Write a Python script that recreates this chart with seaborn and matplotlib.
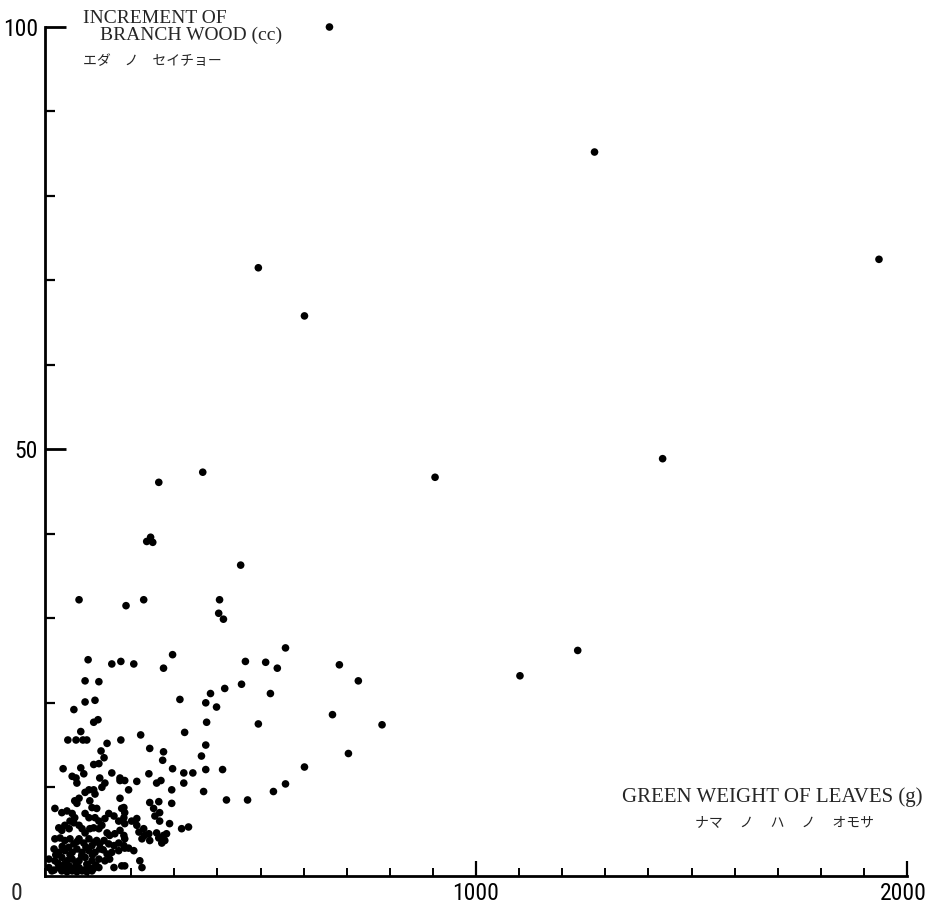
import matplotlib
matplotlib.use("Agg")
import matplotlib.pyplot as plt
import matplotlib.transforms as mtransforms
import seaborn as sns
import pandas as pd
from matplotlib import font_manager
from matplotlib.ticker import MultipleLocator, FixedLocator

# Green weight of leaves (g)
leaf_weight = [
    660, 1275, 1935, 495, 602, 905, 1433, 366, 264, 236, 245, 250, 454, 558, 1236, 1102,
    405, 403, 414, 465, 512, 539, 683, 727, 456, 417, 384, 373, 398, 523, 375, 495, 667, 782,
    373, 363, 373, 412, 704, 602, 558, 530, 368, 421, 470,
    79, 188, 229, 100, 155, 176, 206, 296, 275, 93, 125,
    93, 116, 67, 113, 123, 83, 53, 72, 88, 97, 176, 144, 130, 137, 113, 125, 42, 83, 90, 63,
    72, 155, 174, 174, 185, 127, 139, 132, 113, 102, 74,
    313, 324, 222, 243, 275, 273, 296, 241, 322, 322, 343, 213, 259, 269, 294, 194,
    294, 243, 264, 252, 255, 266, 266, 289, 317, 333, 183, 185, 183, 185, 201, 213, 213, 218,
    229, 231, 225, 241, 243, 259, 264, 275, 278, 271, 282, 185, 185, 194, 206, 185, 220, 225,
    116, 93, 79, 74, 69, 104, 109, 120, 174, 178, 23, 39, 51, 63, 69, 58, 67,
    93, 102, 116, 125, 139, 148, 160, 171, 32, 39, 46, 56, 79, 86, 93, 104, 113, 125, 132,
    144, 150, 162, 174, 183, 23, 35, 46, 58, 67, 79, 90, 102, 109, 120, 127, 137,
    148, 160, 171, 183, 21, 32, 46, 63, 74, 86, 102, 116, 127, 144, 155, 171,
    9, 23, 39, 51, 63, 79, 93, 109, 125, 139, 178,
    9, 21, 32, 44, 56, 67, 79, 90, 102, 113, 125, 16, 39, 63, 86, 109, 51, 74, 97,
    30, 45, 58, 72, 85, 97, 110, 118, 40, 55, 75, 95, 115, 135, 25, 150, 160,
]

# Increment of branch wood (cc)
branch_increment = [
    100.0, 85.2, 72.5, 71.5, 65.8, 46.7, 48.9, 47.3, 46.1, 39.1, 39.6, 39.0, 36.3, 26.5, 26.2, 23.2,
    32.2, 30.6, 29.9, 24.9, 24.8, 24.1, 24.5, 22.6, 22.2, 21.7, 21.1, 20.0, 19.5, 21.1, 17.7, 17.5, 18.6, 17.4,
    15.0, 13.7, 12.1, 12.1, 14.0, 12.4, 10.4, 9.5, 9.5, 8.5, 8.5,
    32.2, 31.5, 32.2, 25.1, 24.6, 24.9, 24.6, 25.7, 24.1, 22.6, 22.5,
    20.1, 20.3, 19.2, 17.7, 18.0, 16.6, 15.6, 15.6, 15.6, 15.6, 15.6, 15.2, 14.3, 13.5, 12.7, 12.8, 12.2, 12.3, 11.6, 11.3,
    11.1, 11.7, 11.1, 10.8, 10.8, 11.1, 10.5, 10.0, 9.7, 9.7, 10.5,
    20.4, 16.5, 16.2, 14.6, 14.2, 13.2, 12.2, 11.6, 11.7, 10.5, 11.7, 10.7, 10.5, 10.8, 9.7, 9.7,
    8.1, 8.2, 8.3, 7.5, 6.6, 7.0, 6.0, 5.7, 5.1, 5.3, 7.6, 7.0, 6.4, 5.7, 6.0, 6.3, 5.5, 4.7,
    5.1, 4.3, 3.9, 4.5, 3.7, 4.6, 4.0, 4.3, 3.7, 3.4, 4.5, 3.9, 2.8, 2.8, 2.5, 0.7, 1.3, 0.5,
    9.2, 9.4, 8.7, 8.1, 8.4, 8.4, 7.6, 7.5, 8.7, 7.5, 7.5, 7.0, 7.2, 6.9, 6.4, 6.0, 5.8,
    6.9, 6.4, 6.4, 6.0, 6.3, 6.9, 6.6, 6.0, 5.2, 4.9, 5.5, 5.1, 5.5, 5.1, 4.6, 5.1, 5.2, 5.1, 5.5,
    4.6, 4.3, 4.5, 4.9, 4.3, 3.9, 4.0, 3.7, 3.9, 3.3, 3.9, 3.4, 3.9, 3.1, 3.7, 3.3, 3.7,
    3.3, 3.1, 3.4, 3.1, 2.7, 2.3, 2.5, 2.3, 2.7, 2.3, 2.5, 2.3, 2.7, 2.1, 2.3, 2.5,
    1.5, 1.3, 1.7, 1.3, 1.5, 1.3, 1.7, 1.3, 1.5, 1.3, 0.7,
    0.5, 0.2, 0.5, 0.4, 0.7, 0.4, 0.5, 0.2, 0.5, 0.4, 0.5, 0.1, 0.1, 0.1, 0.1, 0.1, 0.0, 0.0, 0.0,
    1.0, 0.9, 2.0, 1.0, 1.9, 0.9, 2.0, 0.8, 3.0, 2.9, 3.6, 2.9, 3.5, 2.6, 2.0, 1.5, 0.5,
]

x_tick_values = [1000, 2000]
x_tick_labels = ["1000", "2000"]
y_tick_values = [50, 100]
y_tick_labels = ["50", "100"]

x_title = "GREEN WEIGHT OF LEAVES (g)"
x_title_jp = "ナマ　 ノ　 ハ　 ノ　 オモサ"
y_title_1 = "INCREMENT OF"
y_title_2 = "BRANCH WOOD (cc)"
y_title_jp = "エダ　ノ　セイチョー"

n = min(len(leaf_weight), len(branch_increment))
df = pd.DataFrame({"leaf": leaf_weight[:n], "wood": branch_increment[:n]})

sns.set_theme(style="white")

# pick the narrowest available sans face for the numerals
names = {f.name for f in font_manager.fontManager.ttflist}
narrow_candidates = ["Liberation Sans Narrow", "Roboto Condensed", "Open Sans Condensed",
                     "Noto Sans Condensed"]
found = [c for c in narrow_candidates if c in names]
if found:
    num_font = dict(family=[found[0], "DejaVu Sans"], fontsize=17)
else:
    num_font = dict(family=["DejaVu Sans"], fontstretch="condensed", fontsize=15.5)

plt.rcParams["font.family"] = ["DejaVu Sans"]

W, H = 926, 906
fig = plt.figure(figsize=(W / 100, H / 100), dpi=100)
ax = fig.add_axes([45 / W, (H - 876) / H, 862 / W, 849 / H])

sns.scatterplot(data=df, x="leaf", y="wood", ax=ax, color="black", s=30,
                edgecolor="none", linewidth=0, clip_on=False, legend=False)

ax.set_xlim(0, 2000)
ax.set_ylim(-0.5, 100)
ax.set_xlabel("")
ax.set_ylabel("")

for side in ["top", "right"]:
    ax.spines[side].set_visible(False)
for side in ["left", "bottom"]:
    ax.spines[side].set_linewidth(2.0)
    ax.spines[side].set_color("black")

ax.xaxis.set_major_locator(FixedLocator(x_tick_values))
ax.xaxis.set_minor_locator(MultipleLocator(100))
ax.yaxis.set_major_locator(FixedLocator(y_tick_values))
ax.yaxis.set_minor_locator(FixedLocator([10, 20, 30, 40, 60, 70, 80, 90]))
ax.set_xticklabels(x_tick_labels, **num_font)
ax.set_yticklabels(y_tick_labels, **num_font)

ax.tick_params(axis="x", which="major", direction="in", length=11, width=1.6,
               color="black", pad=4.5, bottom=True)
ax.tick_params(axis="x", which="minor", direction="in", length=6, width=1.4,
               color="black", bottom=True)
ax.tick_params(axis="y", which="major", direction="in", length=15, width=2.0,
               color="black", pad=5, left=True)
ax.tick_params(axis="y", which="minor", direction="in", length=7, width=1.6,
               color="black", left=True)
for lab in ax.get_xticklabels() + ax.get_yticklabels():
    lab.set_color("black")

# keep the last x label inside the canvas, as in the reference
last = ax.get_xticklabels()[-1]
last.set_transform(last.get_transform() +
                   mtransforms.ScaledTranslation(-0.035, 0, fig.dpi_scale_trans))

fig.text(17 / W, 1 - 894 / H, "0", ha="center", va="center", **num_font)

serif = ["Liberation Serif", "DejaVu Serif"]
jp = ["Noto Sans CJK JP", "DejaVu Sans"]
fig.text(83 / W, 1 - 10 / H, y_title_1, ha="left", va="top", fontsize=14, family=serif)
fig.text(100 / W, 1 - 27 / H, y_title_2, ha="left", va="top", fontsize=14, family=serif)
fig.text(83 / W, 1 - 54 / H, y_title_jp, ha="left", va="top", fontsize=10, family=jp)

fig.text(922 / W, 1 - 787 / H, x_title, ha="right", va="top", fontsize=15, family=serif)
fig.text(695 / W, 1 - 815 / H, x_title_jp, ha="left", va="top", fontsize=10, family=jp)

fig.savefig("out.png", dpi=100, facecolor="white")
